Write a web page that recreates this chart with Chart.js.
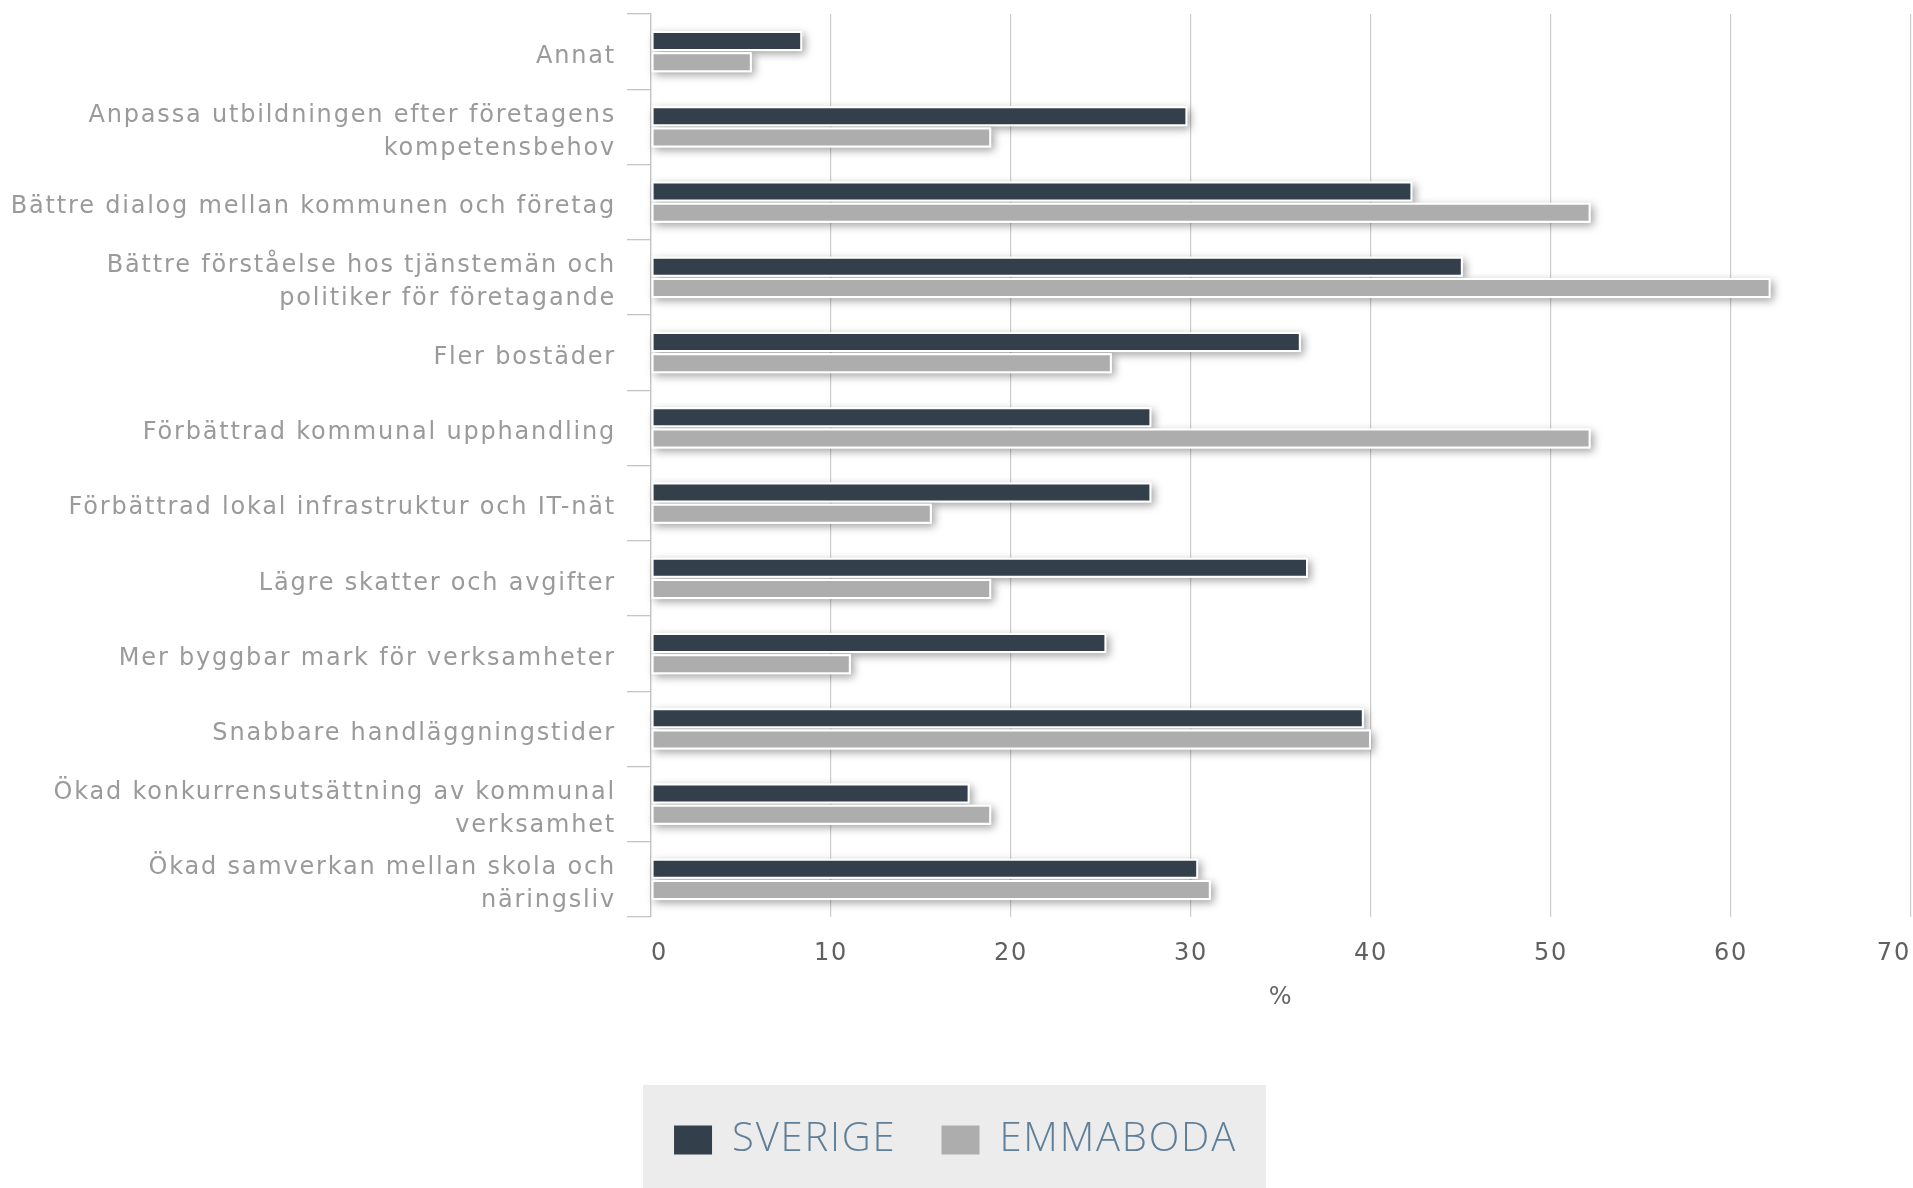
<!DOCTYPE html>
<html>
<head>
<meta charset="utf-8">
<script src="https://cdn.jsdelivr.net/npm/chart.js@4.4.1/dist/chart.umd.min.js"></script>
<style>
  html, body { margin: 0; padding: 0; background: #fff; }
  canvas { display: block; }
</style>
</head>
<body>
<canvas id="chart" width="1913" height="1188"></canvas>
<script>
// rows, top to bottom (arrays = wrapped labels)
const categories = [
  'Annat',
  ['Anpassa utbildningen efter företagens', 'kompetensbehov'],
  'Bättre dialog mellan kommunen och företag',
  ['Bättre förståelse hos tjänstemän och', 'politiker för företagande'],
  'Fler bostäder',
  'Förbättrad kommunal upphandling',
  'Förbättrad lokal infrastruktur och IT-nät',
  'Lägre skatter och avgifter',
  'Mer byggbar mark för verksamheter',
  'Snabbare handläggningstider',
  ['Ökad konkurrensutsättning av kommunal', 'verksamhet'],
  ['Ökad samverkan mellan skola och', 'näringsliv'],
];
const seriesNames = ['SVERIGE', 'EMMABODA'];
const sverige  = [8.4, 29.8, 42.3, 45.1, 36.1, 27.8, 27.8, 36.5, 25.3, 39.6, 17.7, 30.4];
const emmaboda = [5.6, 18.9, 52.2, 62.2, 25.6, 52.2, 15.6, 18.9, 11.1, 40.0, 18.9, 31.1];
const xMin = 0, xMax = 70, xStep = 10;
const xTitle = '%';

const DARK = '#343f4c';
const GREY = '#adadad';
const LABEL_FONT = '"DejaVu Sans", Verdana, sans-serif';

// the original text is rendered with loose tracking; canvas state is reset on resize,
// so set it again before every layout and draw pass
const tracking = {
  id: 'tracking',
  beforeUpdate(chart) { chart.ctx.letterSpacing = '1.8px'; },
  beforeDraw(chart) { chart.ctx.letterSpacing = '1.8px'; }
};

// soft drop shadow under each bar (drawn before the bars themselves)
const barShadow = {
  id: 'barShadow',
  beforeDatasetsDraw(chart) {
    const ctx = chart.ctx;
    ctx.save();
    ctx.shadowColor = 'rgba(0,0,0,0.36)';
    ctx.shadowBlur = 9;
    ctx.shadowOffsetX = 3;
    ctx.shadowOffsetY = 3;
    ctx.fillStyle = '#fff';
    chart.data.datasets.forEach((ds, i) => {
      chart.getDatasetMeta(i).data.forEach(bar => {
        const p = bar.getProps(['x', 'y', 'base', 'height'], true);
        const l = Math.min(p.x, p.base);
        ctx.fillRect(l, p.y - p.height / 2, Math.abs(p.x - p.base), p.height);
      });
    });
    ctx.restore();
  }
};

// grey panel behind the legend
const legendPanel = {
  id: 'legendPanel',
  beforeDraw(chart) {
    const boxes = chart.legend && chart.legend.legendHitBoxes;
    if (!boxes || !boxes.length) return;
    const first = boxes[0], last = boxes[boxes.length - 1];
    const left = first.left - 31;
    const right = last.left + last.width + 29;
    const top = first.top - 35;
    const ctx = chart.ctx;
    ctx.save();
    ctx.fillStyle = '#ececec';
    ctx.fillRect(left, top, right - left, chart.height - top);
    ctx.restore();
  }
};

new Chart(document.getElementById('chart').getContext('2d'), {
  type: 'bar',
  data: {
    labels: categories,
    datasets: [
      { label: seriesNames[0], data: sverige, backgroundColor: DARK },
      { label: seriesNames[1], data: emmaboda, backgroundColor: GREY },
    ].map(d => Object.assign(d, {
      borderColor: '#ffffff',
      borderWidth: 2,
      borderSkipped: false,
      categoryPercentage: 0.565,
      barPercentage: 0.95,
    }))
  },
  options: {
    indexAxis: 'y',
    responsive: false,
    animation: false,
    layout: { padding: { left: 0, right: 2, top: 14, bottom: 18 } },
    scales: {
      y: {
        grid: { display: true, drawOnChartArea: false, drawTicks: true, tickLength: 24, offset: true, color: '#c4c4c4', lineWidth: 1.3 },
        border: { display: true, color: '#c4c4c4', width: 1.3 },
        ticks: {
          autoSkip: false,
          padding: 11,
          labelOffset: 5,
          color: '#9a9a9a',
          font: { family: LABEL_FONT, size: 24, lineHeight: 1.375 }
        },
        afterFit(scale) {
          scale.width = 651;
          scale.paddingTop = 0;
          scale.paddingBottom = 0;
        }
      },
      x: {
        min: xMin,
        max: xMax,
        grid: { drawTicks: false, color: '#cccccc', lineWidth: 1.2 },
        border: { display: false },
        ticks: {
          stepSize: xStep,
          align: 'inner',
          padding: 22,
          color: '#606060',
          font: { family: LABEL_FONT, size: 24, lineHeight: 1.2 }
        },
        title: {
          display: true,
          text: xTitle,
          color: '#666666',
          font: { family: LABEL_FONT, size: 24, lineHeight: 1.2 },
          padding: { top: 18, bottom: 63 }
        },
        afterFit(scale) {
          scale.height = 158;
          scale.paddingLeft = 0;
          scale.paddingRight = 0;
        }
      }
    },
    plugins: {
      tooltip: { enabled: false },
      legend: {
        position: 'bottom',
        labels: {
          boxWidth: 38,
          boxHeight: 29,
          padding: 45,
          color: '#5f7f99',
          font: { family: '"Open Sans", Roboto, sans-serif', size: 40, weight: '300' },
          generateLabels: (chart) => Chart.defaults.plugins.legend.labels.generateLabels(chart)
            .map(l => Object.assign(l, { lineWidth: 0, strokeStyle: 'rgba(0,0,0,0)' }))
        }
      }
    }
  },
  plugins: [tracking, barShadow, legendPanel]
});
</script>
</body>
</html>
